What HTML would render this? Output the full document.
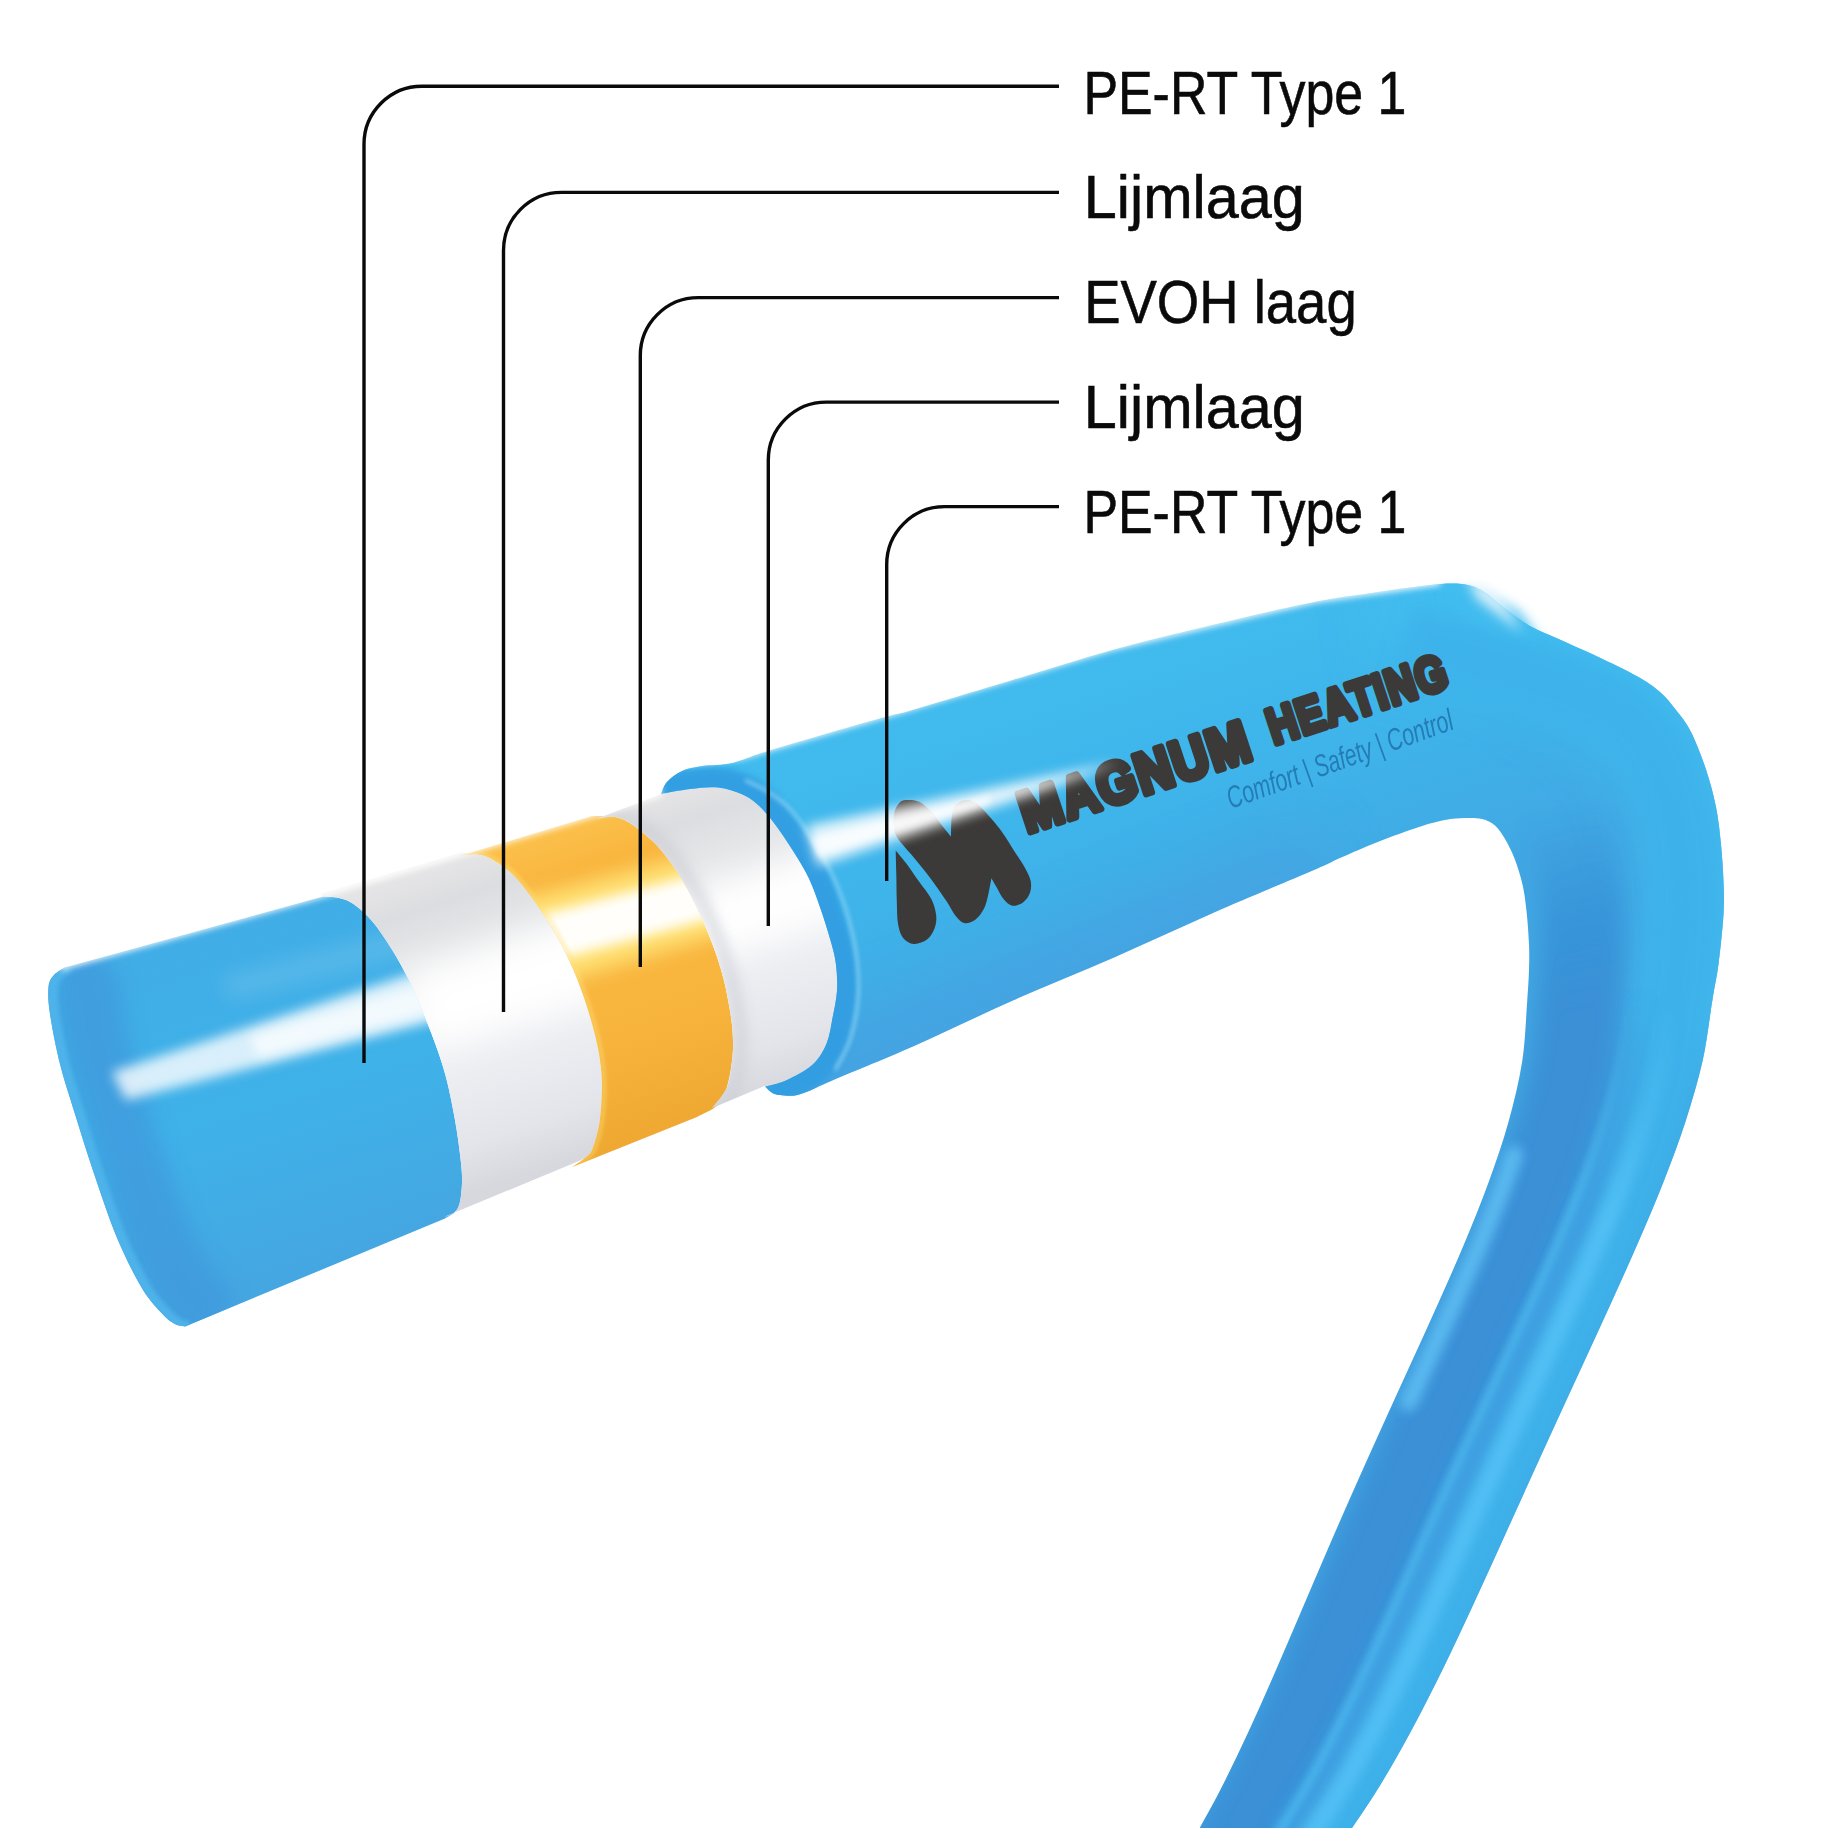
<!DOCTYPE html>
<html lang="nl">
<head>
<meta charset="utf-8">
<title>Magnum Heating – PE-RT buis opbouw</title>
<style>
html,body{margin:0;padding:0;background:#fff;}
body{width:1828px;height:1828px;overflow:hidden;}
svg{display:block;}
.lbl{font-family:"Liberation Sans",sans-serif;font-size:62px;fill:#0a0a0a;stroke:#0a0a0a;stroke-width:0.6px;}
.brand{font-family:"Liberation Sans",sans-serif;font-weight:bold;fill:#3b3a39;stroke:#3b3a39;stroke-linejoin:round;stroke-linecap:round;}
.tag{font-family:"Liberation Sans",sans-serif;font-style:italic;fill:#1f6fa8;}
</style>
</head>
<body>
<svg width="1828" height="1828" viewBox="0 0 1828 1828">
<defs>
  <filter id="b2" x="-20%" y="-20%" width="140%" height="140%"><feGaussianBlur stdDeviation="2"/></filter>
  <filter id="b3" x="-20%" y="-20%" width="140%" height="140%"><feGaussianBlur stdDeviation="3"/></filter>
  <filter id="b6" x="-20%" y="-20%" width="140%" height="140%"><feGaussianBlur stdDeviation="6"/></filter>
  <filter id="b10" x="-30%" y="-30%" width="160%" height="160%"><feGaussianBlur stdDeviation="10"/></filter>
  <filter id="b18" x="-30%" y="-30%" width="160%" height="160%"><feGaussianBlur stdDeviation="18"/></filter>
  <filter id="b30" x="-40%" y="-40%" width="180%" height="180%"><feGaussianBlur stdDeviation="30"/></filter>
  <clipPath id="cPipe"><path d="M661.0 794.0 C662.0 792.0 663.5 785.8 667.0 782.0 C670.5 778.2 676.2 773.7 682.0 771.0 C687.8 768.3 693.7 767.3 702.0 766.0 C710.3 764.7 721.1 765.5 732.0 763.0 C742.9 760.5 750.8 756.2 767.5 751.0 C784.2 745.8 812.2 737.8 832.0 732.0 C851.8 726.2 872.8 720.2 886.5 716.5 C900.2 712.8 892.8 715.7 914.0 709.5 C935.2 703.3 980.7 689.5 1014.0 679.5 C1047.3 669.5 1080.7 658.7 1114.0 649.5 C1147.3 640.3 1180.7 632.4 1214.0 624.5 C1247.3 616.6 1287.8 607.2 1314.0 602.0 C1340.2 596.8 1353.2 595.7 1371.0 593.0 C1388.8 590.3 1407.8 587.6 1421.0 586.0 C1434.2 584.4 1441.8 583.6 1450.0 583.5 C1458.2 583.4 1464.0 583.9 1470.0 585.5 C1476.0 587.1 1480.7 589.6 1486.0 593.0 C1491.3 596.4 1496.7 601.8 1502.0 606.0 C1507.3 610.2 1512.7 614.3 1518.0 618.0 C1523.3 621.7 1525.8 623.8 1534.0 628.0 C1542.2 632.2 1556.1 637.8 1567.5 643.0 C1578.9 648.2 1590.8 653.4 1602.5 659.0 C1614.2 664.6 1627.9 671.0 1637.5 676.5 C1647.1 682.0 1653.6 686.4 1660.0 692.0 C1666.4 697.6 1670.8 703.3 1676.0 710.0 C1681.2 716.7 1686.0 722.1 1691.0 732.0 C1696.0 741.9 1701.8 757.0 1706.0 769.5 C1710.2 782.0 1713.5 794.5 1716.0 807.0 C1718.5 819.5 1719.8 832.0 1721.0 844.5 C1722.2 857.0 1723.1 870.4 1723.5 882.0 C1723.9 893.6 1724.3 900.3 1723.5 914.0 C1722.7 927.7 1720.4 949.7 1718.5 964.0 C1716.6 978.3 1715.0 983.8 1712.4 1000.0 C1709.7 1016.2 1707.1 1040.7 1702.6 1061.0 C1698.0 1081.3 1691.9 1101.7 1685.4 1122.0 C1678.8 1142.3 1671.1 1162.7 1663.1 1183.0 C1655.1 1203.3 1646.4 1223.7 1637.5 1244.0 C1628.7 1264.3 1619.4 1284.7 1610.2 1305.0 C1601.0 1325.3 1591.5 1345.7 1582.2 1366.0 C1572.8 1386.3 1563.4 1406.7 1554.1 1427.0 C1544.8 1447.3 1535.5 1467.7 1526.3 1488.0 C1517.0 1508.3 1507.9 1528.7 1498.7 1549.0 C1489.4 1569.3 1480.3 1589.7 1470.8 1610.0 C1461.3 1630.3 1451.9 1650.7 1441.9 1671.0 C1431.8 1691.3 1421.6 1711.7 1410.6 1732.0 C1399.5 1752.3 1388.1 1772.7 1375.3 1793.0 C1362.6 1813.3 1341.0 1843.8 1334.1 1854.0 L1185.2 1854.0 C1190.8 1843.8 1208.3 1813.3 1218.8 1793.0 C1229.3 1772.7 1238.9 1752.3 1248.4 1732.0 C1257.8 1711.7 1266.7 1691.3 1275.6 1671.0 C1284.5 1650.7 1293.1 1630.3 1301.8 1610.0 C1310.5 1589.7 1319.1 1569.3 1327.9 1549.0 C1336.7 1528.7 1345.6 1508.3 1354.6 1488.0 C1363.6 1467.7 1372.8 1447.3 1382.0 1427.0 C1391.2 1406.7 1400.5 1386.3 1409.8 1366.0 C1419.1 1345.7 1428.5 1325.3 1437.5 1305.0 C1446.6 1284.7 1455.7 1264.3 1464.2 1244.0 C1472.7 1223.7 1481.0 1203.3 1488.4 1183.0 C1495.8 1162.7 1502.9 1142.3 1508.5 1122.0 C1514.1 1101.7 1519.1 1081.3 1522.3 1061.0 C1525.4 1040.7 1526.1 1015.2 1527.3 1000.0 C1528.4 984.8 1528.7 979.3 1529.0 970.0 C1529.3 960.7 1529.4 953.8 1529.0 944.0 C1528.6 934.2 1527.6 920.9 1526.5 911.0 C1525.4 901.1 1524.5 893.2 1522.5 884.5 C1520.5 875.8 1517.4 866.1 1514.5 858.5 C1511.6 850.9 1508.2 844.5 1505.0 839.0 C1501.8 833.5 1498.8 828.8 1495.0 825.5 C1491.2 822.2 1487.0 820.2 1482.0 819.0 C1477.0 817.8 1471.2 817.8 1465.0 818.0 C1458.8 818.2 1452.7 818.5 1445.0 820.0 C1437.3 821.5 1430.0 823.4 1419.0 827.0 C1408.0 830.6 1392.2 836.3 1379.0 841.5 C1365.8 846.7 1350.8 853.2 1340.0 858.0 C1329.2 862.8 1335.0 860.9 1314.0 870.0 C1293.0 879.1 1247.3 897.9 1214.0 912.5 C1180.7 927.1 1147.3 942.9 1114.0 957.5 C1080.7 972.1 1047.3 985.2 1014.0 1000.0 C980.7 1014.8 944.7 1032.4 914.0 1046.0 C883.3 1059.6 847.5 1073.9 830.0 1081.4 C812.5 1088.9 814.8 1088.7 809.0 1091.0 C803.2 1093.3 799.8 1094.7 795.0 1095.4 C790.2 1096.1 783.8 1095.4 780.0 1095.0 C776.2 1094.6 774.5 1094.2 772.0 1092.8 C769.5 1091.4 766.2 1087.6 765.0 1086.6 C768.5 1085.6 778.1 1084.1 786.0 1080.5 C793.9 1076.9 805.8 1070.9 812.5 1064.8 C819.2 1058.7 823.1 1051.7 826.5 1043.8 C829.9 1035.9 830.9 1026.3 832.6 1017.5 C834.4 1008.7 836.4 999.8 837.0 991.0 C837.6 982.2 836.9 972.7 836.0 965.0 C835.1 957.3 834.3 954.2 831.8 945.0 C829.3 935.8 824.8 921.1 821.0 910.0 C817.2 898.9 813.3 887.8 809.0 878.5 C804.7 869.2 800.2 862.5 795.0 854.0 C789.8 845.5 783.3 835.7 777.5 827.8 C771.7 819.9 765.8 812.3 760.0 806.8 C754.2 801.2 749.5 797.7 742.5 794.5 C735.5 791.3 726.8 788.4 718.0 787.5 C709.2 786.6 699.5 787.9 690.0 789.0 C680.5 790.1 665.8 793.2 661.0 794.0 Z"/></clipPath>
  <clipPath id="cBlueL"><path d="M323.0 896.5 L65.0 967.5 C63.2 968.8 56.8 971.8 54.0 975.0 C51.2 978.2 49.2 980.5 48.5 987.0 C47.8 993.5 48.1 1001.2 50.0 1014.0 C51.9 1026.8 55.8 1047.3 60.0 1064.0 C64.2 1080.7 69.2 1095.2 75.0 1114.0 C80.8 1132.8 87.9 1155.7 95.0 1176.5 C102.1 1197.3 109.6 1220.2 117.5 1239.0 C125.4 1257.8 135.0 1276.5 142.5 1289.0 C150.0 1301.5 157.1 1308.2 162.5 1314.0 C167.9 1319.8 171.2 1321.9 175.0 1324.0 C178.8 1326.1 183.3 1326.1 185.0 1326.5 L445.0 1218.5 C447.2 1216.8 455.2 1213.8 458.0 1208.0 C460.8 1202.2 461.6 1192.2 462.0 1183.8 C462.4 1175.4 461.6 1168.1 460.4 1157.5 C459.2 1146.9 457.3 1132.9 455.0 1120.0 C452.7 1107.1 449.6 1091.7 446.7 1080.0 C443.8 1068.3 441.3 1060.9 437.5 1050.0 C433.7 1039.1 428.4 1025.6 424.0 1014.6 C419.6 1003.6 416.4 994.9 411.0 984.0 C405.6 973.1 398.1 959.5 391.6 949.0 C385.1 938.5 378.4 928.5 372.0 921.0 C365.6 913.5 359.0 907.8 353.5 904.0 C348.0 900.2 344.1 899.2 339.0 898.0 C333.9 896.8 325.7 896.8 323.0 896.5 Z"/></clipPath>
  <clipPath id="cWhite1"><path d="M320.0 894.0 L461.0 852.5 C464.8 853.0 475.6 852.1 483.8 855.4 C492.0 858.6 502.1 865.1 510.0 872.0 C517.9 878.9 524.0 887.2 531.0 896.5 C538.0 905.8 545.6 917.2 552.0 928.0 C558.4 938.8 564.2 949.7 569.5 961.0 C574.8 972.3 579.4 984.3 583.5 996.0 C587.6 1007.7 591.2 1020.3 594.0 1031.0 C596.8 1041.7 598.7 1050.6 600.0 1060.0 C601.3 1069.4 602.1 1077.1 602.0 1087.5 C601.9 1097.9 601.1 1112.3 599.5 1122.5 C597.9 1132.7 594.8 1143.0 592.5 1148.8 C590.2 1154.6 588.8 1155.0 585.5 1157.5 C582.2 1160.0 575.1 1162.5 573.0 1163.5 L445.0 1216.5 C447.2 1216.8 455.2 1213.8 458.0 1208.0 C460.8 1202.2 461.6 1192.2 462.0 1183.8 C462.4 1175.4 461.6 1168.1 460.4 1157.5 C459.2 1146.9 457.3 1132.9 455.0 1120.0 C452.7 1107.1 449.6 1091.7 446.7 1080.0 C443.8 1068.3 441.3 1060.9 437.5 1050.0 C433.7 1039.1 428.4 1025.6 424.0 1014.6 C419.6 1003.6 416.4 994.9 411.0 984.0 C405.6 973.1 398.1 959.5 391.6 949.0 C385.1 938.5 378.4 928.5 372.0 921.0 C365.6 913.5 359.0 907.8 353.5 904.0 C348.0 900.2 344.1 899.2 339.0 898.0 C333.9 896.8 325.7 896.8 323.0 896.5 Z"/></clipPath>
  <clipPath id="cOrange"><path d="M461.0 855.4 L592.0 816.0 C595.8 816.2 608.2 815.5 615.0 817.0 C621.8 818.5 625.2 819.7 632.5 824.8 C639.8 829.9 650.6 838.5 658.8 847.5 C667.0 856.5 674.8 868.2 681.5 879.0 C688.2 889.8 693.8 900.9 699.0 912.0 C704.2 923.1 708.9 934.4 713.0 945.5 C717.1 956.6 720.6 967.4 723.5 978.8 C726.4 990.2 728.9 1003.6 730.5 1013.8 C732.1 1024.0 732.8 1032.1 733.0 1040.0 C733.2 1047.9 733.0 1053.1 732.0 1061.0 C731.0 1068.9 729.1 1080.2 726.8 1087.5 C724.5 1094.8 723.0 1100.1 718.0 1105.0 C713.0 1109.9 700.5 1115.0 697.0 1117.0 L572.4 1167.0 C574.6 1165.4 582.1 1160.5 585.5 1157.5 C588.9 1154.5 590.2 1154.6 592.5 1148.8 C594.8 1143.0 597.9 1132.7 599.5 1122.5 C601.1 1112.3 601.9 1097.9 602.0 1087.5 C602.1 1077.1 601.3 1069.4 600.0 1060.0 C598.7 1050.6 596.8 1041.7 594.0 1031.0 C591.2 1020.3 587.6 1007.7 583.5 996.0 C579.4 984.3 574.8 972.3 569.5 961.0 C564.2 949.7 558.4 938.8 552.0 928.0 C545.6 917.2 538.0 905.8 531.0 896.5 C524.0 887.2 517.9 878.9 510.0 872.0 C502.1 865.1 492.0 858.2 483.8 855.4 C475.6 852.6 464.8 855.4 461.0 855.4 Z"/></clipPath>
  <clipPath id="cWhite2"><path d="M596.0 819.0 L661.0 794.0 C665.8 793.2 680.5 790.1 690.0 789.0 C699.5 787.9 709.2 786.6 718.0 787.5 C726.8 788.4 735.5 791.3 742.5 794.5 C749.5 797.7 754.2 801.2 760.0 806.8 C765.8 812.3 771.7 819.9 777.5 827.8 C783.3 835.7 789.8 845.5 795.0 854.0 C800.2 862.5 804.7 869.2 809.0 878.5 C813.3 887.8 817.2 898.9 821.0 910.0 C824.8 921.1 829.3 935.8 831.8 945.0 C834.3 954.2 835.1 957.3 836.0 965.0 C836.9 972.7 837.6 982.2 837.0 991.0 C836.4 999.8 834.4 1008.7 832.6 1017.5 C830.9 1026.3 829.9 1035.9 826.5 1043.8 C823.1 1051.7 819.2 1058.7 812.5 1064.8 C805.8 1070.9 793.9 1076.9 786.0 1080.5 C778.1 1084.1 768.5 1085.6 765.0 1086.6 L765.0 1085.8 L712.0 1108.0 C714.5 1104.6 723.5 1095.3 726.8 1087.5 C730.1 1079.7 731.0 1068.9 732.0 1061.0 C733.0 1053.1 733.2 1047.9 733.0 1040.0 C732.8 1032.1 732.1 1024.0 730.5 1013.8 C728.9 1003.6 726.4 990.2 723.5 978.8 C720.6 967.4 717.1 956.6 713.0 945.5 C708.9 934.4 704.2 923.1 699.0 912.0 C693.8 900.9 688.2 889.8 681.5 879.0 C674.8 868.2 667.0 856.5 658.8 847.5 C650.6 838.5 639.8 829.9 632.5 824.8 C625.2 819.7 621.1 818.0 615.0 817.0 C608.9 816.0 599.2 818.7 596.0 819.0 Z"/></clipPath>
  <!-- gradients perpendicular to pipe axis -->
  <linearGradient id="gWhite" gradientUnits="userSpaceOnUse" x1="560" y1="830" x2="660" y2="1130">
    <stop offset="0" stop-color="#e4e4e6"/>
    <stop offset="0.1" stop-color="#dcdde0"/>
    <stop offset="0.28" stop-color="#e9eaec"/>
    <stop offset="0.42" stop-color="#f7f7f9"/>
    <stop offset="0.6" stop-color="#eeeff3"/>
    <stop offset="0.85" stop-color="#e3e5ea"/>
    <stop offset="1" stop-color="#d6d8de"/>
  </linearGradient>
  <linearGradient id="gOrange" gradientUnits="userSpaceOnUse" x1="560" y1="830" x2="660" y2="1130">
    <stop offset="0" stop-color="#fbc04a"/>
    <stop offset="0.15" stop-color="#f9b53e"/>
    <stop offset="0.6" stop-color="#f9b63f"/>
    <stop offset="1" stop-color="#efa932"/>
  </linearGradient>
  <linearGradient id="gBlueL" gradientUnits="userSpaceOnUse" x1="200" y1="930" x2="310" y2="1280">
    <stop offset="0" stop-color="#41ade6"/>
    <stop offset="0.5" stop-color="#3fb2e9"/>
    <stop offset="1" stop-color="#45a6e1"/>
  </linearGradient>
  <linearGradient id="gSleeve" gradientUnits="userSpaceOnUse" x1="1000" y1="680" x2="1105" y2="1000">
    <stop offset="0" stop-color="#41bbee"/>
    <stop offset="0.5" stop-color="#3eb4ea"/>
    <stop offset="1" stop-color="#42a7e3"/>
  </linearGradient>
  <linearGradient id="gDarkFade" gradientUnits="userSpaceOnUse" x1="1500" y1="830" x2="1545" y2="1010">
    <stop offset="0" stop-color="#3590d6" stop-opacity="0"/>
    <stop offset="0.55" stop-color="#3590d6" stop-opacity="0.8"/>
    <stop offset="1" stop-color="#3a8fd5" stop-opacity="1"/>
  </linearGradient>
  <linearGradient id="gLightFade" gradientUnits="userSpaceOnUse" x1="1690" y1="1000" x2="1640" y2="1220">
    <stop offset="0" stop-color="#52c0f4" stop-opacity="0"/>
    <stop offset="1" stop-color="#52c0f4" stop-opacity="1"/>
  </linearGradient>
  <linearGradient id="gMidFade" gradientUnits="userSpaceOnUse" x1="1690" y1="1000" x2="1640" y2="1220">
    <stop offset="0" stop-color="#3f9fe0" stop-opacity="0"/>
    <stop offset="1" stop-color="#3f9fe0" stop-opacity="1"/>
  </linearGradient>
</defs>

<rect width="1828" height="1828" fill="#ffffff"/>

<!-- inner blue layer (left end) -->
<path d="M323.0 896.5 L65.0 967.5 C63.2 968.8 56.8 971.8 54.0 975.0 C51.2 978.2 49.2 980.5 48.5 987.0 C47.8 993.5 48.1 1001.2 50.0 1014.0 C51.9 1026.8 55.8 1047.3 60.0 1064.0 C64.2 1080.7 69.2 1095.2 75.0 1114.0 C80.8 1132.8 87.9 1155.7 95.0 1176.5 C102.1 1197.3 109.6 1220.2 117.5 1239.0 C125.4 1257.8 135.0 1276.5 142.5 1289.0 C150.0 1301.5 157.1 1308.2 162.5 1314.0 C167.9 1319.8 171.2 1321.9 175.0 1324.0 C178.8 1326.1 183.3 1326.1 185.0 1326.5 L445.0 1218.5 C447.2 1216.8 455.2 1213.8 458.0 1208.0 C460.8 1202.2 461.6 1192.2 462.0 1183.8 C462.4 1175.4 461.6 1168.1 460.4 1157.5 C459.2 1146.9 457.3 1132.9 455.0 1120.0 C452.7 1107.1 449.6 1091.7 446.7 1080.0 C443.8 1068.3 441.3 1060.9 437.5 1050.0 C433.7 1039.1 428.4 1025.6 424.0 1014.6 C419.6 1003.6 416.4 994.9 411.0 984.0 C405.6 973.1 398.1 959.5 391.6 949.0 C385.1 938.5 378.4 928.5 372.0 921.0 C365.6 913.5 359.0 907.8 353.5 904.0 C348.0 900.2 344.1 899.2 339.0 898.0 C333.9 896.8 325.7 896.8 323.0 896.5 Z" fill="url(#gBlueL)"/>
<g clip-path="url(#cBlueL)">
  <!-- end face / inner wall shading -->
  <path d="M65.0 967.5 C63.2 968.8 56.8 971.8 54.0 975.0 C51.2 978.2 49.2 980.5 48.5 987.0 C47.8 993.5 48.1 1001.2 50.0 1014.0 C51.9 1026.8 55.8 1047.3 60.0 1064.0 C64.2 1080.7 69.2 1095.2 75.0 1114.0 C80.8 1132.8 87.9 1155.7 95.0 1176.5 C102.1 1197.3 109.6 1220.2 117.5 1239.0 C125.4 1257.8 135.0 1276.5 142.5 1289.0 C150.0 1301.5 157.1 1308.2 162.5 1314.0 C167.9 1319.8 171.2 1321.9 175.0 1324.0 C178.8 1326.1 183.3 1326.1 185.0 1326.5" fill="none" stroke="#4198dc" stroke-width="64" filter="url(#b10)" opacity="0.7" transform="translate(40,-6)"/>
  <path d="M65.0 967.5 C63.2 968.8 56.8 971.8 54.0 975.0 C51.2 978.2 49.2 980.5 48.5 987.0 C47.8 993.5 48.1 1001.2 50.0 1014.0 C51.9 1026.8 55.8 1047.3 60.0 1064.0 C64.2 1080.7 69.2 1095.2 75.0 1114.0 C80.8 1132.8 87.9 1155.7 95.0 1176.5 C102.1 1197.3 109.6 1220.2 117.5 1239.0 C125.4 1257.8 135.0 1276.5 142.5 1289.0 C150.0 1301.5 157.1 1308.2 162.5 1314.0 C167.9 1319.8 171.2 1321.9 175.0 1324.0 C178.8 1326.1 183.3 1326.1 185.0 1326.5" fill="none" stroke="#4fb4ea" stroke-width="11" filter="url(#b2)" opacity="0.95" transform="translate(4,0)"/>
  <!-- glare -->
  <path d="M112 1072 L440 964 L454 1016 L126 1100 Z" fill="#ffffff" filter="url(#b6)" opacity="0.8"/>
  <path d="M250 1036 L445 978 L452 1006 L258 1058 Z" fill="#ffffff" filter="url(#b6)" opacity="0.7"/>
  <path d="M220 978 L420 925 L428 950 L230 1000 Z" fill="#ffffff" filter="url(#b10)" opacity="0.12"/>
</g>

<!-- white band 1 -->
<path d="M320.0 894.0 L461.0 852.5 C464.8 853.0 475.6 852.1 483.8 855.4 C492.0 858.6 502.1 865.1 510.0 872.0 C517.9 878.9 524.0 887.2 531.0 896.5 C538.0 905.8 545.6 917.2 552.0 928.0 C558.4 938.8 564.2 949.7 569.5 961.0 C574.8 972.3 579.4 984.3 583.5 996.0 C587.6 1007.7 591.2 1020.3 594.0 1031.0 C596.8 1041.7 598.7 1050.6 600.0 1060.0 C601.3 1069.4 602.1 1077.1 602.0 1087.5 C601.9 1097.9 601.1 1112.3 599.5 1122.5 C597.9 1132.7 594.8 1143.0 592.5 1148.8 C590.2 1154.6 588.8 1155.0 585.5 1157.5 C582.2 1160.0 575.1 1162.5 573.0 1163.5 L445.0 1216.5 C447.2 1216.8 455.2 1213.8 458.0 1208.0 C460.8 1202.2 461.6 1192.2 462.0 1183.8 C462.4 1175.4 461.6 1168.1 460.4 1157.5 C459.2 1146.9 457.3 1132.9 455.0 1120.0 C452.7 1107.1 449.6 1091.7 446.7 1080.0 C443.8 1068.3 441.3 1060.9 437.5 1050.0 C433.7 1039.1 428.4 1025.6 424.0 1014.6 C419.6 1003.6 416.4 994.9 411.0 984.0 C405.6 973.1 398.1 959.5 391.6 949.0 C385.1 938.5 378.4 928.5 372.0 921.0 C365.6 913.5 359.0 907.8 353.5 904.0 C348.0 900.2 344.1 899.2 339.0 898.0 C333.9 896.8 325.7 896.8 323.0 896.5 Z" fill="url(#gWhite)"/>
<g clip-path="url(#cWhite1)">
  <path d="M400 975 L620 905 L640 985 L430 1050 Z" fill="#ffffff" filter="url(#b18)" opacity="0.95"/>
</g>
<!-- orange band -->
<path d="M461.0 855.4 L592.0 816.0 C595.8 816.2 608.2 815.5 615.0 817.0 C621.8 818.5 625.2 819.7 632.5 824.8 C639.8 829.9 650.6 838.5 658.8 847.5 C667.0 856.5 674.8 868.2 681.5 879.0 C688.2 889.8 693.8 900.9 699.0 912.0 C704.2 923.1 708.9 934.4 713.0 945.5 C717.1 956.6 720.6 967.4 723.5 978.8 C726.4 990.2 728.9 1003.6 730.5 1013.8 C732.1 1024.0 732.8 1032.1 733.0 1040.0 C733.2 1047.9 733.0 1053.1 732.0 1061.0 C731.0 1068.9 729.1 1080.2 726.8 1087.5 C724.5 1094.8 723.0 1100.1 718.0 1105.0 C713.0 1109.9 700.5 1115.0 697.0 1117.0 L572.4 1167.0 C574.6 1165.4 582.1 1160.5 585.5 1157.5 C588.9 1154.5 590.2 1154.6 592.5 1148.8 C594.8 1143.0 597.9 1132.7 599.5 1122.5 C601.1 1112.3 601.9 1097.9 602.0 1087.5 C602.1 1077.1 601.3 1069.4 600.0 1060.0 C598.7 1050.6 596.8 1041.7 594.0 1031.0 C591.2 1020.3 587.6 1007.7 583.5 996.0 C579.4 984.3 574.8 972.3 569.5 961.0 C564.2 949.7 558.4 938.8 552.0 928.0 C545.6 917.2 538.0 905.8 531.0 896.5 C524.0 887.2 517.9 878.9 510.0 872.0 C502.1 865.1 492.0 858.2 483.8 855.4 C475.6 852.6 464.8 855.4 461.0 855.4 Z" fill="url(#gOrange)"/>
<g clip-path="url(#cOrange)">
  <path d="M520 900 L730 846 L750 925 L548 985 Z" fill="#ffe57a" filter="url(#b10)" opacity="0.95"/>
  <path d="M530 918 L730 866 L742 910 L548 962 Z" fill="#ffffff" filter="url(#b6)" opacity="0.97"/>
  <path d="M461.0 855.4 C464.8 855.4 475.6 852.6 483.8 855.4 C492.0 858.2 502.1 865.1 510.0 872.0 C517.9 878.9 524.0 887.2 531.0 896.5 C538.0 905.8 545.6 917.2 552.0 928.0 C558.4 938.8 564.2 949.7 569.5 961.0 C574.8 972.3 579.4 984.3 583.5 996.0 C587.6 1007.7 591.2 1020.3 594.0 1031.0 C596.8 1041.7 598.7 1050.6 600.0 1060.0 C601.3 1069.4 602.1 1077.1 602.0 1087.5 C601.9 1097.9 601.1 1112.3 599.5 1122.5 C597.9 1132.7 594.8 1143.0 592.5 1148.8 C590.2 1154.6 588.9 1154.5 585.5 1157.5 C582.1 1160.5 574.6 1165.4 572.4 1167.0" fill="none" stroke="#ffe27a" stroke-width="3" filter="url(#b2)" opacity="0.7" transform="translate(2,0)"/>
</g>
<!-- white band 2 -->
<path d="M596.0 819.0 L661.0 794.0 C665.8 793.2 680.5 790.1 690.0 789.0 C699.5 787.9 709.2 786.6 718.0 787.5 C726.8 788.4 735.5 791.3 742.5 794.5 C749.5 797.7 754.2 801.2 760.0 806.8 C765.8 812.3 771.7 819.9 777.5 827.8 C783.3 835.7 789.8 845.5 795.0 854.0 C800.2 862.5 804.7 869.2 809.0 878.5 C813.3 887.8 817.2 898.9 821.0 910.0 C824.8 921.1 829.3 935.8 831.8 945.0 C834.3 954.2 835.1 957.3 836.0 965.0 C836.9 972.7 837.6 982.2 837.0 991.0 C836.4 999.8 834.4 1008.7 832.6 1017.5 C830.9 1026.3 829.9 1035.9 826.5 1043.8 C823.1 1051.7 819.2 1058.7 812.5 1064.8 C805.8 1070.9 793.9 1076.9 786.0 1080.5 C778.1 1084.1 768.5 1085.6 765.0 1086.6 L765.0 1085.8 L712.0 1108.0 C714.5 1104.6 723.5 1095.3 726.8 1087.5 C730.1 1079.7 731.0 1068.9 732.0 1061.0 C733.0 1053.1 733.2 1047.9 733.0 1040.0 C732.8 1032.1 732.1 1024.0 730.5 1013.8 C728.9 1003.6 726.4 990.2 723.5 978.8 C720.6 967.4 717.1 956.6 713.0 945.5 C708.9 934.4 704.2 923.1 699.0 912.0 C693.8 900.9 688.2 889.8 681.5 879.0 C674.8 868.2 667.0 856.5 658.8 847.5 C650.6 838.5 639.8 829.9 632.5 824.8 C625.2 819.7 621.1 818.0 615.0 817.0 C608.9 816.0 599.2 818.7 596.0 819.0 Z" fill="url(#gWhite)"/>
<g clip-path="url(#cWhite2)">
  <path d="M660 905 L860 842 L875 905 L685 965 Z" fill="#ffffff" filter="url(#b18)" opacity="0.95"/>
  <path d="M592.0 816.0 C595.8 816.2 608.2 815.5 615.0 817.0 C621.8 818.5 625.2 819.7 632.5 824.8 C639.8 829.9 650.6 838.5 658.8 847.5 C667.0 856.5 674.8 868.2 681.5 879.0 C688.2 889.8 693.8 900.9 699.0 912.0 C704.2 923.1 708.9 934.4 713.0 945.5 C717.1 956.6 720.6 967.4 723.5 978.8 C726.4 990.2 728.9 1003.6 730.5 1013.8 C732.1 1024.0 732.8 1032.1 733.0 1040.0 C733.2 1047.9 733.0 1053.1 732.0 1061.0 C731.0 1068.9 729.1 1080.2 726.8 1087.5 C724.5 1094.8 723.0 1100.1 718.0 1105.0 C713.0 1109.9 700.5 1115.0 697.0 1117.0" fill="none" stroke="#c9cbd2" stroke-width="14" filter="url(#b6)" opacity="0.55" transform="translate(8,0)"/>
</g>

<!-- outer blue pipe -->
<path d="M661.0 794.0 C662.0 792.0 663.5 785.8 667.0 782.0 C670.5 778.2 676.2 773.7 682.0 771.0 C687.8 768.3 693.7 767.3 702.0 766.0 C710.3 764.7 721.1 765.5 732.0 763.0 C742.9 760.5 750.8 756.2 767.5 751.0 C784.2 745.8 812.2 737.8 832.0 732.0 C851.8 726.2 872.8 720.2 886.5 716.5 C900.2 712.8 892.8 715.7 914.0 709.5 C935.2 703.3 980.7 689.5 1014.0 679.5 C1047.3 669.5 1080.7 658.7 1114.0 649.5 C1147.3 640.3 1180.7 632.4 1214.0 624.5 C1247.3 616.6 1287.8 607.2 1314.0 602.0 C1340.2 596.8 1353.2 595.7 1371.0 593.0 C1388.8 590.3 1407.8 587.6 1421.0 586.0 C1434.2 584.4 1441.8 583.6 1450.0 583.5 C1458.2 583.4 1464.0 583.9 1470.0 585.5 C1476.0 587.1 1480.7 589.6 1486.0 593.0 C1491.3 596.4 1496.7 601.8 1502.0 606.0 C1507.3 610.2 1512.7 614.3 1518.0 618.0 C1523.3 621.7 1525.8 623.8 1534.0 628.0 C1542.2 632.2 1556.1 637.8 1567.5 643.0 C1578.9 648.2 1590.8 653.4 1602.5 659.0 C1614.2 664.6 1627.9 671.0 1637.5 676.5 C1647.1 682.0 1653.6 686.4 1660.0 692.0 C1666.4 697.6 1670.8 703.3 1676.0 710.0 C1681.2 716.7 1686.0 722.1 1691.0 732.0 C1696.0 741.9 1701.8 757.0 1706.0 769.5 C1710.2 782.0 1713.5 794.5 1716.0 807.0 C1718.5 819.5 1719.8 832.0 1721.0 844.5 C1722.2 857.0 1723.1 870.4 1723.5 882.0 C1723.9 893.6 1724.3 900.3 1723.5 914.0 C1722.7 927.7 1720.4 949.7 1718.5 964.0 C1716.6 978.3 1715.0 983.8 1712.4 1000.0 C1709.7 1016.2 1707.1 1040.7 1702.6 1061.0 C1698.0 1081.3 1691.9 1101.7 1685.4 1122.0 C1678.8 1142.3 1671.1 1162.7 1663.1 1183.0 C1655.1 1203.3 1646.4 1223.7 1637.5 1244.0 C1628.7 1264.3 1619.4 1284.7 1610.2 1305.0 C1601.0 1325.3 1591.5 1345.7 1582.2 1366.0 C1572.8 1386.3 1563.4 1406.7 1554.1 1427.0 C1544.8 1447.3 1535.5 1467.7 1526.3 1488.0 C1517.0 1508.3 1507.9 1528.7 1498.7 1549.0 C1489.4 1569.3 1480.3 1589.7 1470.8 1610.0 C1461.3 1630.3 1451.9 1650.7 1441.9 1671.0 C1431.8 1691.3 1421.6 1711.7 1410.6 1732.0 C1399.5 1752.3 1388.1 1772.7 1375.3 1793.0 C1362.6 1813.3 1341.0 1843.8 1334.1 1854.0 L1185.2 1854.0 C1190.8 1843.8 1208.3 1813.3 1218.8 1793.0 C1229.3 1772.7 1238.9 1752.3 1248.4 1732.0 C1257.8 1711.7 1266.7 1691.3 1275.6 1671.0 C1284.5 1650.7 1293.1 1630.3 1301.8 1610.0 C1310.5 1589.7 1319.1 1569.3 1327.9 1549.0 C1336.7 1528.7 1345.6 1508.3 1354.6 1488.0 C1363.6 1467.7 1372.8 1447.3 1382.0 1427.0 C1391.2 1406.7 1400.5 1386.3 1409.8 1366.0 C1419.1 1345.7 1428.5 1325.3 1437.5 1305.0 C1446.6 1284.7 1455.7 1264.3 1464.2 1244.0 C1472.7 1223.7 1481.0 1203.3 1488.4 1183.0 C1495.8 1162.7 1502.9 1142.3 1508.5 1122.0 C1514.1 1101.7 1519.1 1081.3 1522.3 1061.0 C1525.4 1040.7 1526.1 1015.2 1527.3 1000.0 C1528.4 984.8 1528.7 979.3 1529.0 970.0 C1529.3 960.7 1529.4 953.8 1529.0 944.0 C1528.6 934.2 1527.6 920.9 1526.5 911.0 C1525.4 901.1 1524.5 893.2 1522.5 884.5 C1520.5 875.8 1517.4 866.1 1514.5 858.5 C1511.6 850.9 1508.2 844.5 1505.0 839.0 C1501.8 833.5 1498.8 828.8 1495.0 825.5 C1491.2 822.2 1487.0 820.2 1482.0 819.0 C1477.0 817.8 1471.2 817.8 1465.0 818.0 C1458.8 818.2 1452.7 818.5 1445.0 820.0 C1437.3 821.5 1430.0 823.4 1419.0 827.0 C1408.0 830.6 1392.2 836.3 1379.0 841.5 C1365.8 846.7 1350.8 853.2 1340.0 858.0 C1329.2 862.8 1335.0 860.9 1314.0 870.0 C1293.0 879.1 1247.3 897.9 1214.0 912.5 C1180.7 927.1 1147.3 942.9 1114.0 957.5 C1080.7 972.1 1047.3 985.2 1014.0 1000.0 C980.7 1014.8 944.7 1032.4 914.0 1046.0 C883.3 1059.6 847.5 1073.9 830.0 1081.4 C812.5 1088.9 814.8 1088.7 809.0 1091.0 C803.2 1093.3 799.8 1094.7 795.0 1095.4 C790.2 1096.1 783.8 1095.4 780.0 1095.0 C776.2 1094.6 774.5 1094.2 772.0 1092.8 C769.5 1091.4 766.2 1087.6 765.0 1086.6 C768.5 1085.6 778.1 1084.1 786.0 1080.5 C793.9 1076.9 805.8 1070.9 812.5 1064.8 C819.2 1058.7 823.1 1051.7 826.5 1043.8 C829.9 1035.9 830.9 1026.3 832.6 1017.5 C834.4 1008.7 836.4 999.8 837.0 991.0 C837.6 982.2 836.9 972.7 836.0 965.0 C835.1 957.3 834.3 954.2 831.8 945.0 C829.3 935.8 824.8 921.1 821.0 910.0 C817.2 898.9 813.3 887.8 809.0 878.5 C804.7 869.2 800.2 862.5 795.0 854.0 C789.8 845.5 783.3 835.7 777.5 827.8 C771.7 819.9 765.8 812.3 760.0 806.8 C754.2 801.2 749.5 797.7 742.5 794.5 C735.5 791.3 726.8 788.4 718.0 787.5 C709.2 786.6 699.5 787.9 690.0 789.0 C680.5 790.1 665.8 793.2 661.0 794.0 Z" fill="url(#gSleeve)"/>
<g clip-path="url(#cPipe)">
  <!-- bend: lighter outer side, darker inner side -->
  <path d="M1380 600 C1480 585 1640 640 1700 760 C1730 850 1725 950 1700 1060" fill="none" stroke="#45c0f1" stroke-width="150" filter="url(#b30)" opacity="0.7"/>
  <!-- straight part: lower side slightly darker -->
  <path d="M800 1110 L1330 880" fill="none" stroke="#4a9fe0" stroke-width="120" filter="url(#b30)" opacity="0.5"/>
  <!-- tail shading -->
  <path d="M1362.4 781.8 C1374.0 780.7 1410.0 776.2 1432.2 774.9 C1454.4 773.6 1477.1 771.3 1495.6 773.9 C1514.1 776.6 1531.3 780.6 1543.4 790.7 C1555.6 800.9 1562.2 817.3 1568.5 834.8 C1574.7 852.3 1578.5 876.8 1580.9 896.0 C1583.2 915.2 1582.8 932.7 1582.5 950.0 C1582.2 967.3 1580.7 981.5 1579.1 1000.0 C1577.5 1018.5 1576.3 1040.7 1572.8 1061.0 C1569.2 1081.3 1563.9 1101.7 1558.0 1122.0 C1552.1 1142.3 1544.9 1162.7 1537.3 1183.0 C1529.8 1203.3 1521.3 1223.7 1512.7 1244.0 C1504.2 1264.3 1495.0 1284.7 1485.9 1305.0 C1476.8 1325.3 1467.4 1345.7 1458.1 1366.0 C1448.8 1386.3 1439.4 1406.7 1430.2 1427.0 C1420.9 1447.3 1411.7 1467.7 1402.7 1488.0 C1393.6 1508.3 1384.7 1528.7 1375.7 1549.0 C1366.8 1569.3 1358.0 1589.7 1349.1 1610.0 C1340.2 1630.3 1331.4 1650.7 1322.1 1671.0 C1312.9 1691.3 1303.7 1711.7 1293.8 1732.0 C1283.9 1752.3 1273.8 1772.7 1262.6 1793.0 C1251.5 1813.3 1232.9 1843.8 1226.9 1854.0" fill="none" stroke="url(#gDarkFade)" stroke-width="82" filter="url(#b10)" opacity="0.95"/>
  <path d="M1404.0 640.4 C1418.7 644.5 1464.2 656.9 1492.0 665.2 C1519.8 673.5 1547.4 680.2 1571.0 690.2 C1594.6 700.2 1617.3 708.9 1633.4 725.2 C1649.5 741.5 1659.6 763.9 1667.8 788.0 C1676.0 812.1 1680.5 843.0 1682.8 870.0 C1685.1 897.0 1683.0 928.3 1681.8 950.0 C1680.6 971.7 1677.9 981.5 1675.4 1000.0 C1672.8 1018.5 1670.7 1040.7 1666.5 1061.0 C1662.3 1081.3 1656.4 1101.7 1650.0 1122.0 C1643.6 1142.3 1636.0 1162.7 1628.2 1183.0 C1620.3 1203.3 1611.6 1223.7 1602.9 1244.0 C1594.1 1264.3 1584.9 1284.7 1575.7 1305.0 C1566.5 1325.3 1557.0 1345.7 1547.7 1366.0 C1538.3 1386.3 1528.9 1406.7 1519.6 1427.0 C1510.4 1447.3 1501.1 1467.7 1491.9 1488.0 C1482.7 1508.3 1473.7 1528.7 1464.5 1549.0 C1455.4 1569.3 1446.3 1589.7 1437.0 1610.0 C1427.7 1630.3 1418.4 1650.7 1408.6 1671.0 C1398.8 1691.3 1388.9 1711.7 1378.1 1732.0 C1367.4 1752.3 1356.3 1772.7 1344.0 1793.0 C1331.7 1813.3 1311.0 1843.8 1304.4 1854.0" fill="none" stroke="#3cb2ea" stroke-width="70" filter="url(#b10)" opacity="0.9"/>
  <path d="M1389.6 689.4 C1403.2 691.7 1445.4 698.2 1471.3 703.2 C1497.2 708.2 1523.1 711.7 1544.9 719.2 C1566.7 726.6 1587.5 733.7 1602.3 747.9 C1617.0 762.0 1625.9 782.3 1633.4 804.2 C1641.0 826.1 1645.2 854.7 1647.5 879.0 C1649.9 903.3 1648.3 929.8 1647.4 950.0 C1646.5 970.2 1644.3 981.5 1642.0 1000.0 C1639.8 1018.5 1638.0 1040.7 1634.0 1061.0 C1630.1 1081.3 1624.4 1101.7 1618.2 1122.0 C1611.9 1142.3 1604.5 1162.7 1596.7 1183.0 C1589.0 1203.3 1580.4 1223.7 1571.7 1244.0 C1563.0 1264.3 1553.8 1284.7 1544.6 1305.0 C1535.4 1325.3 1526.0 1345.7 1516.7 1366.0 C1507.3 1386.3 1497.9 1406.7 1488.7 1427.0 C1479.4 1447.3 1470.2 1467.7 1461.0 1488.0 C1451.9 1508.3 1442.9 1528.7 1433.8 1549.0 C1424.7 1569.3 1415.8 1589.7 1406.6 1610.0 C1397.4 1630.3 1388.3 1650.7 1378.7 1671.0 C1369.1 1691.3 1359.4 1711.7 1348.9 1732.0 C1338.5 1752.3 1327.7 1772.7 1315.9 1793.0 C1304.0 1813.3 1283.9 1843.8 1277.6 1854.0" fill="none" stroke="url(#gMidFade)" stroke-width="24" filter="url(#b6)" opacity="0.9"/>
  <path d="M1382.8 712.5 C1395.9 713.9 1436.6 717.7 1461.5 721.1 C1486.5 724.5 1511.6 726.6 1532.6 732.9 C1553.6 739.1 1573.5 745.4 1587.6 758.6 C1601.7 771.8 1610.0 791.1 1617.2 811.9 C1624.4 832.6 1628.5 860.2 1630.9 883.2 C1633.2 906.3 1631.9 930.5 1631.2 950.0 C1630.4 969.5 1628.4 981.5 1626.3 1000.0 C1624.2 1018.5 1622.6 1040.7 1618.7 1061.0 C1614.9 1081.3 1609.3 1101.7 1603.1 1122.0 C1597.0 1142.3 1589.6 1162.7 1581.9 1183.0 C1574.2 1203.3 1565.6 1223.7 1556.9 1244.0 C1548.3 1264.3 1539.1 1284.7 1529.9 1305.0 C1520.8 1325.3 1511.3 1345.7 1502.0 1366.0 C1492.7 1386.3 1483.3 1406.7 1474.0 1427.0 C1464.8 1447.3 1455.6 1467.7 1446.4 1488.0 C1437.3 1508.3 1428.3 1528.7 1419.3 1549.0 C1410.2 1569.3 1401.3 1589.7 1392.2 1610.0 C1383.1 1630.3 1374.0 1650.7 1364.5 1671.0 C1355.0 1691.3 1345.5 1711.7 1335.1 1732.0 C1324.8 1752.3 1314.3 1772.7 1302.5 1793.0 C1290.8 1813.3 1271.2 1843.8 1264.9 1854.0" fill="none" stroke="url(#gLightFade)" stroke-width="8" filter="url(#b3)" opacity="0.55"/>
  <path d="M1401.2 649.9 C1415.7 653.7 1460.5 664.9 1488.0 672.6 C1515.4 680.2 1542.7 686.3 1565.9 695.8 C1589.2 705.3 1611.5 713.7 1627.3 729.6 C1643.2 745.5 1653.0 767.5 1661.1 791.1 C1669.2 814.8 1673.6 845.3 1675.9 871.8 C1678.3 898.2 1676.3 928.6 1675.1 950.0 C1673.9 971.4 1671.4 981.5 1668.9 1000.0 C1666.4 1018.5 1664.4 1040.7 1660.2 1061.0 C1656.0 1081.3 1650.2 1101.7 1643.8 1122.0 C1637.5 1142.3 1629.9 1162.7 1622.0 1183.0 C1614.2 1203.3 1605.5 1223.7 1596.8 1244.0 C1588.1 1264.3 1578.8 1284.7 1569.6 1305.0 C1560.4 1325.3 1551.0 1345.7 1541.7 1366.0 C1532.3 1386.3 1522.9 1406.7 1513.6 1427.0 C1504.3 1447.3 1495.1 1467.7 1485.9 1488.0 C1476.7 1508.3 1467.7 1528.7 1458.5 1549.0 C1449.4 1569.3 1440.4 1589.7 1431.1 1610.0 C1421.8 1630.3 1412.6 1650.7 1402.8 1671.0 C1393.0 1691.3 1383.1 1711.7 1372.4 1732.0 C1361.7 1752.3 1350.8 1772.7 1338.5 1793.0 C1326.3 1813.3 1305.7 1843.8 1299.1 1854.0" fill="none" stroke="url(#gLightFade)" stroke-width="20" filter="url(#b6)" opacity="0.95"/>
  <path d="M1347.2 833.5 C1357.7 830.4 1390.2 819.8 1410.3 815.0 C1430.5 810.2 1451.3 804.6 1468.0 804.5 C1484.8 804.5 1499.9 806.8 1510.6 814.7 C1521.3 822.6 1526.7 836.8 1532.2 851.9 C1537.7 867.0 1541.3 889.1 1543.6 905.5 C1546.0 921.9 1546.1 934.2 1546.2 950.0 C1546.2 965.8 1545.2 981.5 1543.9 1000.0 C1542.6 1018.5 1541.8 1040.7 1538.5 1061.0 C1535.2 1081.3 1530.1 1101.7 1524.4 1122.0 C1518.7 1142.3 1511.6 1162.7 1504.2 1183.0 C1496.7 1203.3 1488.3 1223.7 1479.8 1244.0 C1471.3 1264.3 1462.2 1284.7 1453.1 1305.0 C1444.0 1325.3 1434.6 1345.7 1425.3 1366.0 C1416.0 1386.3 1406.7 1406.7 1397.5 1427.0 C1388.2 1447.3 1379.1 1467.7 1370.1 1488.0 C1361.0 1508.3 1352.2 1528.7 1343.3 1549.0 C1334.5 1569.3 1325.8 1589.7 1317.0 1610.0 C1308.2 1630.3 1299.5 1650.7 1290.5 1671.0 C1281.5 1691.3 1272.6 1711.7 1263.0 1732.0 C1253.4 1752.3 1243.6 1772.7 1232.9 1793.0 C1222.2 1813.3 1204.4 1843.8 1198.6 1854.0" stroke-linecap="round" fill="none" stroke="#62c2f5" stroke-width="17" filter="url(#b6)" opacity="0.85" stroke-dasharray="270 6000" stroke-dashoffset="-520"/>
  <!-- lip -->
  <path d="M765.0 1086.6 C768.5 1085.6 778.1 1084.1 786.0 1080.5 C793.9 1076.9 805.8 1070.9 812.5 1064.8 C819.2 1058.7 823.1 1051.7 826.5 1043.8 C829.9 1035.9 830.9 1026.3 832.6 1017.5 C834.4 1008.7 836.4 999.8 837.0 991.0 C837.6 982.2 836.9 972.7 836.0 965.0 C835.1 957.3 834.3 954.2 831.8 945.0 C829.3 935.8 824.8 921.1 821.0 910.0 C817.2 898.9 813.3 887.8 809.0 878.5 C804.7 869.2 800.2 862.5 795.0 854.0 C789.8 845.5 783.3 835.7 777.5 827.8 C771.7 819.9 765.8 812.3 760.0 806.8 C754.2 801.2 749.5 797.7 742.5 794.5 C735.5 791.3 726.8 788.4 718.0 787.5 C709.2 786.6 699.5 787.9 690.0 789.0 C680.5 790.1 665.8 793.2 661.0 794.0" fill="none" stroke="#339de1" stroke-width="40" filter="url(#b3)" opacity="0.9"/>
  <path d="M835.0 1070.0 C837.5 1065.0 846.2 1051.7 850.0 1040.0 C853.8 1028.3 856.8 1013.3 858.0 1000.0 C859.2 986.7 858.5 973.3 857.0 960.0 C855.5 946.7 852.3 932.5 849.0 920.0 C845.7 907.5 841.5 895.8 837.0 885.0 C832.5 874.2 827.3 864.5 822.0 855.0 C816.7 845.5 810.8 836.2 805.0 828.0 C799.2 819.8 793.7 812.3 787.0 806.0 C780.3 799.7 772.0 794.3 765.0 790.0 C758.0 785.7 748.3 781.7 745.0 780.0" fill="none" stroke="#8fd6f7" stroke-width="3" filter="url(#b2)" opacity="0.9"/>
</g>

<!-- logo -->
<g fill="#3b3a39">
<path d="M895.7 850.4 C897.4 852.5 902.1 857.8 906.0 863.0 C909.9 868.2 914.8 875.6 919.0 881.6 C923.2 887.6 928.4 893.4 931.3 899.0 C934.2 904.6 935.7 910.6 936.2 915.5 C936.7 920.4 936.0 924.6 934.5 928.6 C933.0 932.6 930.5 937.0 927.0 939.6 C923.5 942.2 917.8 944.4 913.8 944.0 C909.8 943.6 905.4 940.9 902.8 937.4 C900.1 933.9 898.9 929.1 897.9 923.0 C896.9 916.9 897.1 909.2 896.8 901.0 C896.5 892.8 896.5 882.4 896.3 874.0 C896.1 865.6 895.8 854.3 895.7 850.4 Z"/>
<path d="M951.0 836.7 C951.1 833.8 951.0 824.0 951.5 819.0 C952.0 814.0 952.3 810.1 954.2 807.0 C956.1 803.9 959.7 801.5 963.0 800.6 C966.3 799.7 970.3 799.9 974.0 801.7 C977.7 803.5 980.5 806.7 985.0 811.6 C989.5 816.5 996.2 824.1 1001.3 831.0 C1006.4 837.9 1011.5 846.8 1015.5 853.0 C1019.5 859.2 1022.8 863.7 1025.3 868.5 C1027.8 873.3 1030.1 877.4 1030.8 881.6 C1031.5 885.8 1031.0 890.1 1029.7 893.6 C1028.4 897.1 1025.9 900.4 1023.0 902.4 C1020.1 904.4 1015.5 906.3 1012.2 905.7 C1009.0 905.1 1006.0 902.0 1003.5 899.0 C1001.0 896.0 999.0 891.5 997.0 888.0 C995.0 884.5 992.3 879.9 991.4 878.3 C990.8 881.2 989.3 890.7 988.0 895.8 C986.7 900.9 986.0 905.0 983.8 909.0 C981.6 913.0 978.3 917.7 975.0 920.0 C971.7 922.3 967.3 923.8 964.0 923.0 C960.7 922.2 958.2 919.1 955.3 915.5 C952.4 911.9 950.6 907.3 946.6 901.3 C942.6 895.3 936.8 886.7 931.3 879.4 C925.8 872.1 919.4 864.4 913.8 857.5 C908.1 850.6 900.8 843.3 897.4 837.8 C894.0 832.3 894.0 829.1 893.5 824.7 C893.0 820.3 893.6 815.2 894.6 811.6 C895.6 808.0 897.6 804.7 899.5 802.8 C901.4 800.9 902.7 800.2 906.0 800.0 C909.3 799.8 915.0 799.8 919.2 801.7 C923.4 803.6 927.5 807.6 931.3 811.6 C935.1 815.6 938.9 821.6 942.2 825.8 C945.5 830.0 949.5 834.9 951.0 836.7 Z"/>
</g>
<g class="brand">
<text transform="translate(1027,833) rotate(-18.2) scale(0.862,1)" font-size="58" stroke-width="7" letter-spacing="2">MAGNUM</text>
<text transform="translate(1274,744.5) rotate(-18.2) scale(0.797,1)" font-size="50" stroke-width="6.5" letter-spacing="2">HEATING</text>
</g>
<text class="tag" transform="translate(1231,809) rotate(-19.7) scale(0.684,1)" font-size="31" opacity="0.8">Comfort | Safety | Control</text>

<g clip-path="url(#cPipe)">
  <!-- main glare streaks (over the logo) -->
  <path d="M806 826 L1040 778 L1120 762 L1040 792 L818 866 Z" fill="#ffffff" filter="url(#b6)" opacity="0.85"/>
  <path d="M812 838 L990 796 L990 803 L818 856 Z" fill="#ffffff" filter="url(#b3)" opacity="0.75"/>
</g>

<!-- soft rim light along the upper silhouette -->
<path d="M60 966 L323 893 L461 852 L592 813 L661 792" fill="none" stroke="#ffffff" stroke-width="9" filter="url(#b3)" opacity="0.9"/>
<path d="M676 762 L740 755.5 L914 705.5 L1114 646 L1314 599 L1440 581" fill="none" stroke="#ffffff" stroke-width="8" filter="url(#b3)" opacity="0.9"/>
<path d="M1440 592 L1480 590 L1520 612 L1540 640 L1480 625 Z" fill="#42bcef" filter="url(#b6)" opacity="0.9"/>
<path d="M1466 572 L1500 596 L1522 632 L1476 598 Z" fill="#ffffff" filter="url(#b6)" opacity="0.8"/>

<!-- leader lines -->
<path d="M1059 86.2 H422.0 A58 58 0 0 0 364.0 144.2 V1063.0 M1059 192.4 H561.5 A58 58 0 0 0 503.5 250.4 V1012.0 M1059 297.6 H698.3 A58 58 0 0 0 640.3 355.6 V967.0 M1059 402.1 H826.3 A58 58 0 0 0 768.3 460.1 V926.0 M1059 506.6 H944.7 A58 58 0 0 0 886.7 564.6 V881.0 " fill="none" stroke="#0a0a0a" stroke-width="3.4"/>

<!-- labels -->
<g class="lbl">
<text x="1083.4" y="113.6" textLength="323.0" lengthAdjust="spacingAndGlyphs">PE-RT Type 1</text>
<text x="1083.8" y="218.4" textLength="221.0" lengthAdjust="spacingAndGlyphs">Lijmlaag</text>
<text x="1084.2" y="323.0" textLength="272.5" lengthAdjust="spacingAndGlyphs">EVOH laag</text>
<text x="1083.8" y="427.8" textLength="221.0" lengthAdjust="spacingAndGlyphs">Lijmlaag</text>
<text x="1083.4" y="532.6" textLength="323.0" lengthAdjust="spacingAndGlyphs">PE-RT Type 1</text>
</g>
</svg>
</body>
</html>
